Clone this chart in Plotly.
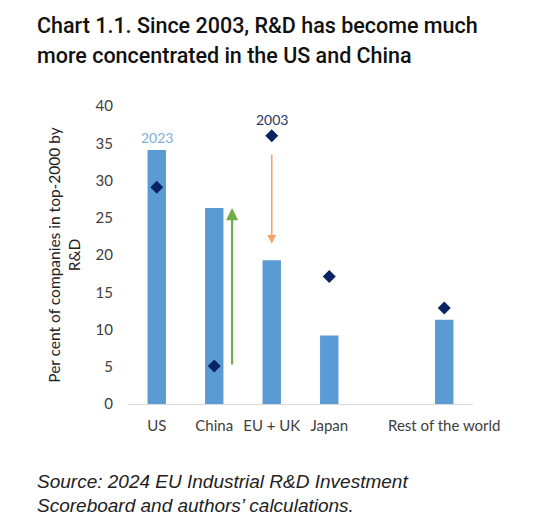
import plotly.graph_objects as go

# values
categories = ["US", "China", "EU + UK", "Japan", " ", "Rest of the world"]
bar_regions = ["US", "China", "EU + UK", "Japan", "Rest of the world"]
share_2023 = [34.1, 26.3, 19.3, 9.2, 11.3]
share_2003 = [29.1, 5.1, 36.0, 17.1, 12.9]

title_lines = ["Chart 1.1. Since 2003, R&D has become much",
               "more concentrated in the US and China"]
source_lines = ["Source: 2024 EU Industrial R&D Investment",
                "Scoreboard and authors\u2019 calculations."]

bar_color = "#5B9BD5"
dot_color = "#0A2463"

# page has an 8px body margin, so the figure is drawn 8px smaller
W, H = 531, 518
L, R, T, B = 120, 66, 98, 122
pw, ph = W - L - R, H - T - B

fig = go.Figure()

fig.add_trace(go.Bar(
    x=bar_regions,
    y=share_2023,
    marker=dict(color=bar_color, line=dict(width=0)),
    width=0.32,
    name="2023",
))

fig.add_trace(go.Scatter(
    x=bar_regions,
    y=share_2003,
    mode="markers",
    marker=dict(symbol="diamond", size=10, color=dot_color),
    name="2003",
))


def px_to_paper(x, y):
    # pixel position in the figure -> paper coords of the plot area
    return (x - L) / pw, (H - B - y) / ph


annotations = [
    # year labels
    dict(x="US", y=share_2023[0], text="2023", showarrow=False, yanchor="bottom",
         yshift=2, font=dict(family="Lato", size=14, color="#7FAEDD")),
    dict(x="EU + UK", y=share_2003[2], text="2003", showarrow=False, yanchor="bottom",
         yshift=6, font=dict(family="Lato", size=14, color="#1F3864")),
    # China rise (green) and EU fall (orange)
    dict(x=1.31, y=share_2023[1], ax=1.31, ay=share_2003[1], xref="x", yref="y",
         axref="x", ayref="y", text="", showarrow=True, arrowhead=2, arrowsize=1.1,
         arrowwidth=2.2, arrowcolor="#70AD47"),
    dict(x=2, y=share_2023[2] + 2.2, ax=2, ay=share_2003[2] - 2.3, xref="x", yref="y",
         axref="x", ayref="y", text="", showarrow=True, arrowhead=2, arrowsize=1.1,
         arrowwidth=1.6, arrowcolor="#F4A46A"),
]

# title, two lines (pixel centres in the figure)
for line, yc in zip(title_lines, [18, 48]):
    x, y = px_to_paper(27, yc)
    annotations.append(dict(
        x=x, y=y, xref="paper", yref="paper", xanchor="left", yanchor="middle",
        showarrow=False, text=line,
        font=dict(family="Roboto", size=21.5, color="#111111", weight=500)))

# source note
for line, yc in zip(source_lines, [473, 497]):
    x, y = px_to_paper(27, yc)
    annotations.append(dict(
        x=x, y=y, xref="paper", yref="paper", xanchor="left", yanchor="middle",
        showarrow=False, text="<i>" + line + "</i>",
        font=dict(family="Liberation Sans", size=19, color="#222222")))

fig.update_layout(
    width=W,
    height=H,
    margin=dict(l=L, r=R, t=T, b=B),
    paper_bgcolor="white",
    plot_bgcolor="white",
    showlegend=False,
    annotations=annotations,
    xaxis=dict(
        type="category",
        categoryorder="array",
        categoryarray=categories,
        range=[-0.5, 5.5],
        showline=True,
        linecolor="#D9D9D9",
        linewidth=1,
        ticks="",
        tickangle=0,
        ticklabelstandoff=8,
        tickfont=dict(family="Lato", size=15, color="#404040"),
        showgrid=False,
    ),
    yaxis=dict(
        range=[0, 40],
        dtick=5,
        showgrid=False,
        zeroline=False,
        showline=False,
        ticks="",
        ticklabelstandoff=14,
        tickfont=dict(family="Lato", size=15, color="#404040"),
        title=dict(
            text="Per cent of companies in top-2000 by<br>R&D",
            font=dict(family="Lato", size=15.5, color="#222222"),
            standoff=11,
        ),
    ),
)

fig.write_html("out.html")
